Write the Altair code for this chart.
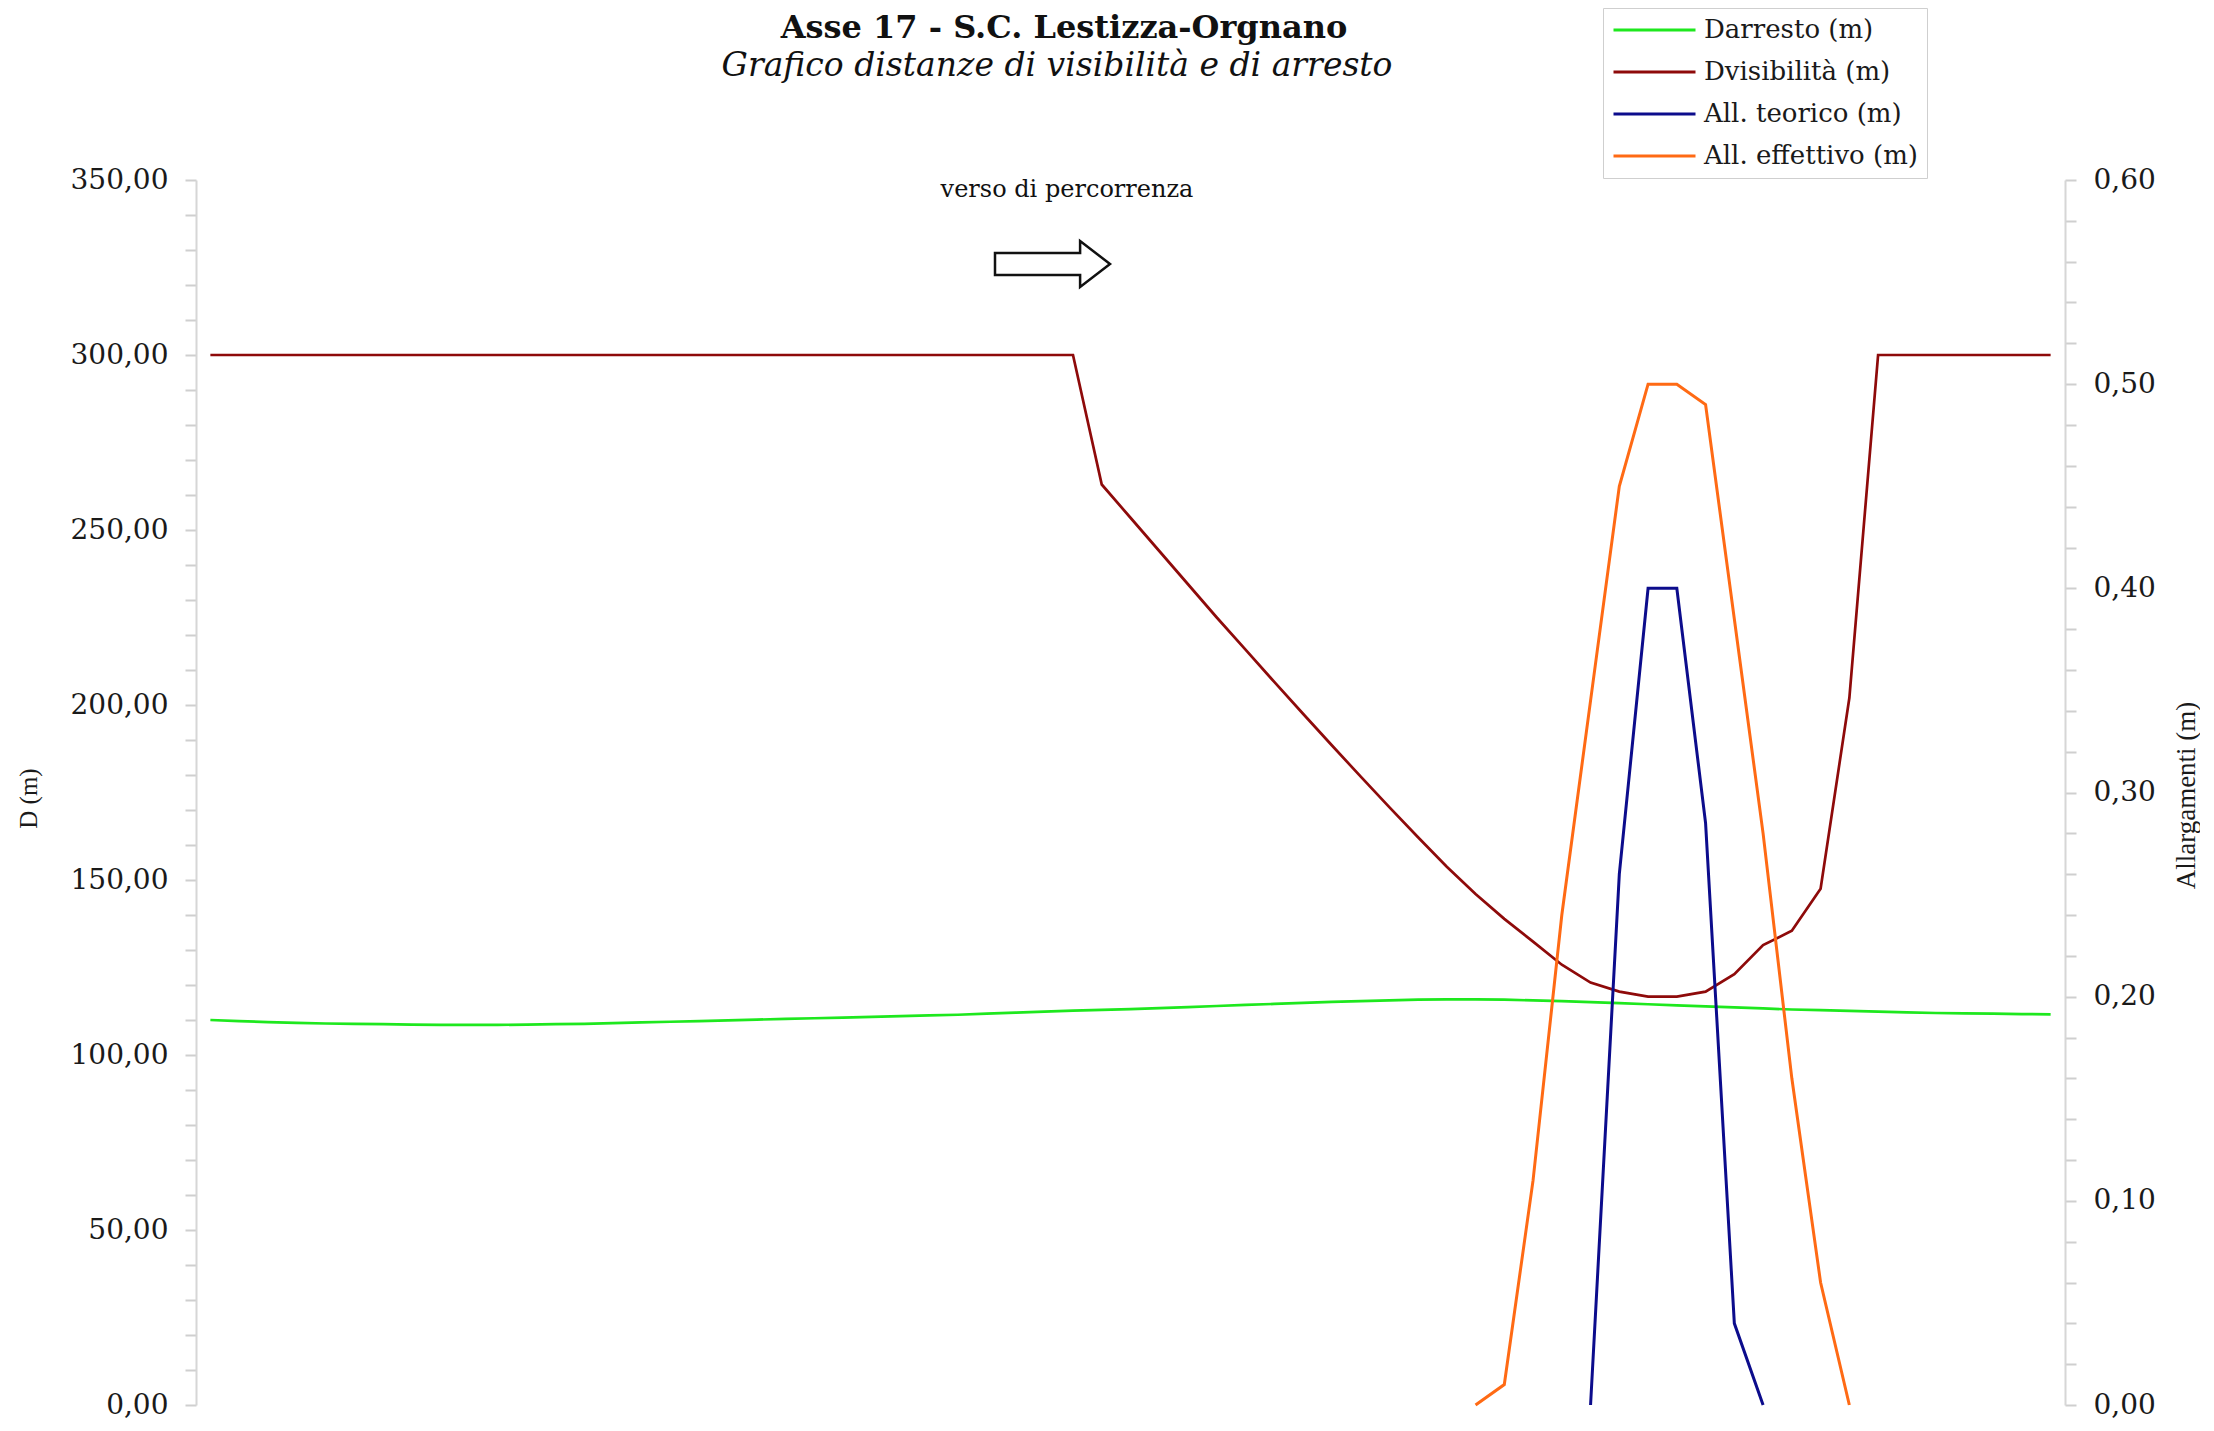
import altair as alt
import pandas as pd

# ---------------- data ----------------
SERIES = ["Darresto (m)", "Dvisibilità (m)", "All. teorico (m)", "All. effettivo (m)"]
COLORS = ["#1ee81e", "#8e0a0a", "#0c0c8c", "#ff6a14"]

# station index 0..64
station = list(range(65))

darresto = [110.0, 109.7, 109.4, 109.2, 109.0, 108.9, 108.8, 108.7, 108.6, 108.6,
            108.6, 108.7, 108.8, 108.9, 109.1, 109.3, 109.5, 109.7, 109.9, 110.1,
            110.3, 110.5, 110.7, 110.9, 111.1, 111.3, 111.5, 111.8, 112.1, 112.4,
            112.7, 112.9, 113.1, 113.4, 113.7, 114.0, 114.3, 114.6, 114.9, 115.2,
            115.4, 115.6, 115.8, 115.9, 115.9, 115.8, 115.6, 115.4, 115.1, 114.8,
            114.5, 114.2, 113.9, 113.6, 113.3, 113.0, 112.8, 112.6, 112.4, 112.2,
            112.0, 111.9, 111.8, 111.7, 111.6]

dvisibilita = [300, 300, 300, 300, 300, 300, 300, 300, 300, 300,
               300, 300, 300, 300, 300, 300, 300, 300, 300, 300,
               300, 300, 300, 300, 300, 300, 300, 300, 300, 300,
               300, 263.0, 253.5, 244.0, 234.5, 225.0, 215.8, 206.6, 197.5, 188.5,
               179.6, 170.8, 162.2, 153.8, 146.0, 138.9, 132.4, 125.8, 120.7, 118.1,
               116.7, 116.7, 118.1, 123.1, 131.4, 135.5, 147.5, 202.0, 300, 300,
               300, 300, 300, 300, 300]

teorico_station = [48, 49, 50, 51, 52, 53, 54]
teorico = [0.0, 0.26, 0.40, 0.40, 0.285, 0.04, 0.0]

effettivo_station = [44, 45, 46, 47, 48, 49, 50, 51, 52, 53, 54, 55, 56, 57]
effettivo = [0.0, 0.01, 0.11, 0.24, 0.345, 0.45, 0.50, 0.50, 0.49, 0.385, 0.28, 0.16, 0.06, 0.0]

LEFT_TICKS = list(range(0, 351, 10))
RIGHT_TICKS = [round(k * 0.02, 2) for k in range(31)]

TITLE = "Asse 17 - S.C. Lestizza-Orgnano"
SUBTITLE = "Grafico distanze di visibilità e di arresto"
NOTE = "verso di percorrenza"

FONT = "DejaVu Serif"
AXFONT = "Liberation Serif"

# ---------------- tables ----------------
left_df = pd.concat([
    pd.DataFrame({"i": station, "value": darresto, "series": SERIES[0]}),
    pd.DataFrame({"i": station, "value": dvisibilita, "series": SERIES[1]}),
])
right_df = pd.concat([
    pd.DataFrame({"i": teorico_station, "value": teorico, "series": SERIES[2]}),
    pd.DataFrame({"i": effettivo_station, "value": effettivo, "series": SERIES[3]}),
])

W, H = 1869, 1225

legend = alt.Legend(
    title=None, orient="none", legendX=1407, legendY=-172,
    symbolType="stroke", symbolSize=6724, symbolStrokeWidth=3,
    clipHeight=26, rowPadding=16, padding=9, labelOffset=7,
    labelFont=FONT, labelFontSize=26, labelColor="#1a1a1a", labelLimit=400,
    strokeColor="#cfcfcf", fillColor="white",
)
color = alt.Color("series:N", scale=alt.Scale(domain=SERIES, range=COLORS), legend=legend)

xscale = alt.Scale(domain=[-0.5, 64.5], nice=False, zero=False)

axis_common = dict(
    grid=False, domainColor="#d6d6d6", domainWidth=2, tickColor="#cfcfcf",
    tickWidth=2, tickSize=11, labelFont=FONT, labelFontSize=28,
    labelColor="#1a1a1a", labelPadding=17, labelFlush=False,
    labelOverlap=False, labelBound=False,
    titleFont=AXFONT, titleFontWeight="normal",
    titleColor="#1a1a1a", titleAngle=270, titleBaseline="middle", titleAlign="center",
)

left = alt.Chart(left_df).mark_line(strokeWidth=2.7).encode(
    x=alt.X("i:Q", scale=xscale,
            axis=alt.Axis(labels=False, ticks=False, title=None, grid=False,
                          domainColor="#d6d6d6", domainWidth=2)),
    y=alt.Y("value:Q", scale=alt.Scale(domain=[0, 350], nice=False, zero=True),
            axis=alt.Axis(orient="left", values=LEFT_TICKS, title="D (m)",
                          titleX=-168, titleY=618, titleFontSize=25,
                          labelExpr="datum.value % 50 == 0 ? replace(format(datum.value, '.2f'), '.', ',') : ''",
                          **axis_common)),
    color=color,
)

right = alt.Chart(right_df).mark_line(strokeWidth=3).encode(
    x=alt.X("i:Q", scale=xscale, axis=None),
    y=alt.Y("value:Q", scale=alt.Scale(domain=[0, 0.6], nice=False, zero=True),
            axis=alt.Axis(orient="right", values=RIGHT_TICKS, title="Allargamenti (m)",
                          titleX=121, titleY=615, titleFontSize=27,
                          labelExpr="round(datum.value * 100) % 10 == 0 ? replace(format(datum.value, '.2f'), '.', ',') : ''",
                          **axis_common)),
    color=color,
)

title_t = alt.Chart(pd.DataFrame({"t": [TITLE]})).mark_text(
    font=FONT, fontSize=32, fontWeight="bold", align="center", baseline="alphabetic", color="#111111"
).encode(text="t:N", x=alt.value(868), y=alt.value(-142))

sub_t = alt.Chart(pd.DataFrame({"t": [SUBTITLE]})).mark_text(
    font=FONT, fontSize=33, fontStyle="italic", align="center", baseline="alphabetic", color="#111111"
).encode(text="t:N", x=alt.value(861), y=alt.value(-104))

note_t = alt.Chart(pd.DataFrame({"t": [NOTE]})).mark_text(
    font=FONT, fontSize=24, align="center", baseline="alphabetic", color="#111111"
).encode(text="t:N", x=alt.value(871), y=alt.value(17))

ARROW = "M-1,-0.19L0.48,-0.19L0.48,-0.4L1,0L0.48,0.4L0.48,0.19L-1,0.19Z"
arrow = alt.Chart(pd.DataFrame({"a": [1]})).mark_point(
    shape=ARROW, size=13225, filled=False, stroke="#111111", strokeWidth=2.5, opacity=1
).encode(x=alt.value(856.5), y=alt.value(84))

chart = alt.layer(left, right, title_t, sub_t, note_t, arrow).resolve_scale(
    y="independent"
).properties(
    width=W, height=H,
    autosize=alt.AutoSizeParams(type="none"),
    padding={"left": 188, "top": 172, "right": 135, "bottom": 15},
    background="white",
).configure_view(strokeWidth=0)

chart.save("out.html", embed_options={"renderer": "svg", "actions": False})
